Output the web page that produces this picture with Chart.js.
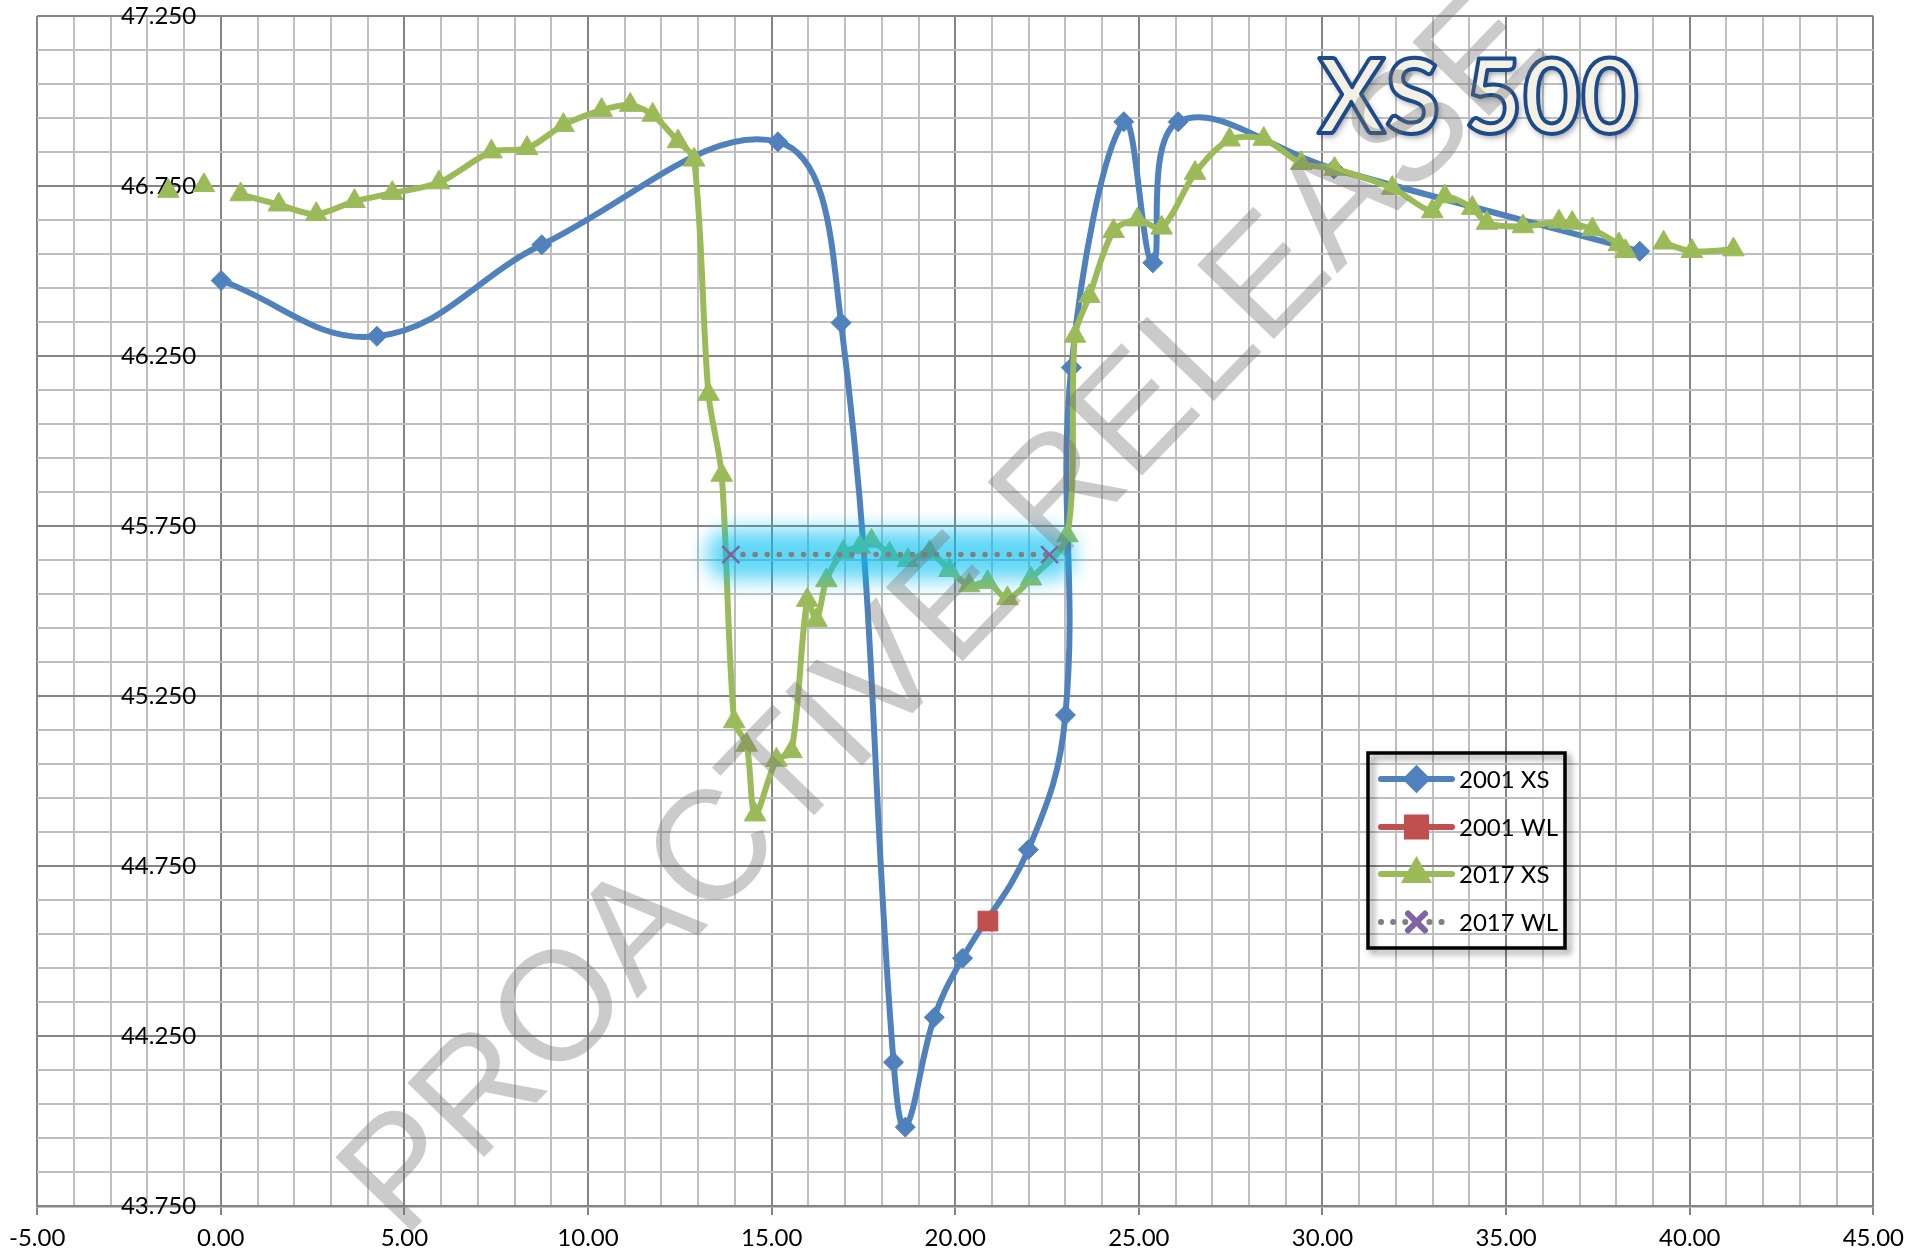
<!DOCTYPE html>
<html>
<head>
<meta charset="utf-8">
<script src="https://cdn.jsdelivr.net/npm/chart.js@4.4.1/dist/chart.umd.min.js"></script>
<style>
html,body{margin:0;padding:0;background:#ffffff;}
#wrap{width:1913px;height:1252px;position:relative;}
</style>
</head>
<body>
<div id="wrap"><canvas id="c" width="1913" height="1252"></canvas></div>
<script>
// ---------------- DATA ----------------
const seriesNames = ['2001 XS', '2001 WL', '2017 XS', '2017 WL'];

const xs2001X = [0.01, 4.25, 8.74, 15.17, 16.89, 18.32, 18.64, 19.43, 20.20, 21.99, 23.00, 23.16, 24.59, 25.38, 26.07, 30.31, 38.64];
const xs2001Y = [46.472, 46.308, 46.577, 46.880, 46.348, 44.173, 43.982, 44.305, 44.479, 44.798, 45.194, 46.216, 46.939, 46.524, 46.939, 46.800, 46.558];

const wl2001X = [20.89];
const wl2001Y = [44.588];

const xs2017X = [-1.43, -0.95, -0.46, 0.04, 0.54, 1.58, 2.60, 3.64, 4.67, 5.94, 7.37, 8.34, 9.33, 10.37, 11.15, 11.76, 12.45, 12.89,
                 13.28, 13.64, 13.98, 14.32, 14.55, 15.13, 15.54, 15.97, 16.22, 16.49, 16.95, 17.40, 17.72, 18.21, 18.71, 19.30,
                 19.84, 20.38, 20.88, 21.42, 22.06, 23.05, 23.26, 23.65, 24.31, 24.96, 25.62, 26.53, 27.47, 28.40, 29.42, 30.33,
                 31.90, 32.99, 33.33, 34.08, 34.48, 35.46, 36.44, 36.80, 37.35, 38.07, 38.25, 38.77, 39.29, 40.06, 41.19];
const xs2017Y = [46.735, null, 46.752, null, 46.725, 46.695, 46.667, 46.705, 46.729, 46.760, 46.851, 46.861, 46.929, 46.973, 46.988, 46.959, 46.881, 46.827,
                 46.138, 45.900, 45.175, 45.106, 44.901, 45.062, 45.087, 45.532, 45.473, 45.590, 45.673, 45.688, 45.706, 45.668, 45.649, 45.673,
                 45.620, 45.575, 45.585, 45.537, 45.595, 45.722, 46.309, 46.426, 46.617, 46.651, 46.627, 46.788, 46.886, 46.888, 46.817, 46.800,
                 46.744, 46.675, 46.719, 46.685, 46.641, 46.631, 46.645, 46.641, 46.622, 46.578, 46.558, null, 46.583, 46.558, 46.563];

const wl2017X = [13.89, 22.57];
const wl2017Y = [45.666, 45.666];

const xAxisMin = -5, xAxisMax = 45, xMinorStep = 1, xMajorStep = 5;
const yAxisMin = 43.75, yAxisMax = 47.25, yMinorStep = 0.1, yMajorStep = 0.5;
const yLabelCrossX = -0.67;
const chartTitle = 'XS 500';
const watermarkText = 'PROACTIVE RELEASE';

// ---------------- HELPERS ----------------
function pts(xa, ya) { return xa.map((x, i) => ({x: x, y: ya[i]})); }
function isMajor(v, base, step) {
  const r = (v - base) / step;
  return Math.abs(r - Math.round(r)) < 1e-6;
}
const MAJOR_GRID = '#858585';
const MINOR_GRID = '#bfbfbf';

const COL_BLUE = '#4F81BD', COL_RED = '#C0504D', COL_GREEN = '#9BBB59', COL_PURPLE = '#8064A2', COL_GREY = '#808080';

// ---------------- PLUGINS ----------------
const glowPlugin = {
  id: 'glow',
  beforeDatasetDraw(chart, args) {
    const ds = chart.data.datasets[args.index];
    if (!ds.glow) return;
    const p = args.meta.data;
    if (p.length < 2) return;
    const ctx = chart.ctx;
    ctx.save();
    ctx.filter = 'blur(10px)';
    ctx.strokeStyle = 'rgba(0,190,240,0.62)';
    ctx.lineWidth = 50;
    ctx.lineCap = 'round';
    ctx.beginPath();
    ctx.moveTo(p[0].x, p[0].y);
    for (let i = 1; i < p.length; i++) ctx.lineTo(p[i].x, p[i].y);
    ctx.stroke();
    ctx.restore();
  }
};

const decorPlugin = {
  id: 'decor',
  afterDraw(chart) {
    const ctx = chart.ctx;
    const H = Chart.helpers;
    // ---- legend ----
    ctx.save();
    ctx.shadowColor = 'rgba(0,0,0,0.45)';
    ctx.shadowBlur = 6;
    ctx.shadowOffsetX = 4;
    ctx.shadowOffsetY = 4;
    ctx.strokeStyle = '#000';
    ctx.lineWidth = 3.5;
    ctx.strokeRect(1368, 753, 197, 195);
    ctx.restore();

    const rows = [779, 827, 874, 922];
    const x0 = 1381, x1 = 1452, xm = 1416.5;
    chart.data.datasets.forEach((ds) => {
      const y = rows[ds.legendRow];
      ctx.save();
      ctx.strokeStyle = ds.legendLineColor;
      ctx.lineWidth = 6;
      ctx.lineCap = 'round';
      if (ds.legendDash) ctx.setLineDash(ds.legendDash);
      ctx.beginPath();
      ctx.moveTo(x0, y); ctx.lineTo(x1, y);
      ctx.stroke();
      ctx.setLineDash([]);
      ctx.fillStyle = ds.pointBackgroundColor;
      ctx.strokeStyle = ds.pointBorderColor;
      H.drawPoint(ctx, {pointStyle: ds.pointStyle, radius: ds.legendRadius, rotation: 0, borderWidth: ds.pointBorderWidth}, xm, y);
      ctx.restore();
      ctx.save();
      ctx.fillStyle = '#000';
      ctx.font = "24px Lato";
      ctx.textBaseline = 'middle';
      ctx.textAlign = 'left';
      ctx.fillText(ds.label, 1459, y + 1);
      ctx.restore();
    });

    // ---- title ----
    ctx.save();
    ctx.font = "bold 104px Lato";
    const w = ctx.measureText(chartTitle).width;
    const targetW = 321;
    ctx.translate(1318, 133);
    ctx.scale(targetW / w, 1);
    ctx.shadowColor = 'rgba(0,0,0,0.45)';
    ctx.shadowBlur = 7;
    ctx.shadowOffsetX = 2;
    ctx.shadowOffsetY = 3;
    ctx.textBaseline = 'alphabetic';
    ctx.fillStyle = '#F4F1E4';
    ctx.fillText(chartTitle, 0, 0);
    ctx.shadowColor = 'rgba(0,0,0,0)';
    ctx.lineJoin = 'round';
    ctx.strokeStyle = '#1D4A8A';
    ctx.lineWidth = 4;
    ctx.strokeText(chartTitle, 0, 0);
    ctx.restore();

    // ---- watermark ----
    ctx.save();
    ctx.translate(947, 616);
    ctx.rotate(-46 * Math.PI / 180);
    ctx.font = "155px 'Liberation Sans'";
    ctx.textAlign = 'center';
    ctx.textBaseline = 'middle';
    ctx.fillStyle = 'rgba(110,110,110,0.36)';
    ctx.fillText(watermarkText, 0, 0);
    ctx.restore();
  }
};

// ---------------- CHART ----------------
Chart.defaults.font.family = 'Lato';
Chart.defaults.color = '#000';

const chart = new Chart(document.getElementById('c'), {
  type: 'scatter',
  data: {
    datasets: [
      {
        label: seriesNames[0],
        data: pts(xs2001X, xs2001Y),
        showLine: true,
        borderColor: COL_BLUE,
        borderWidth: 6,
        tension: 0.4,
        pointStyle: 'rectRot',
        pointRadius: 10,
        pointBackgroundColor: COL_BLUE,
        pointBorderColor: COL_BLUE,
        pointBorderWidth: 1,
        order: 4,
        legendRow: 0, legendLineColor: COL_BLUE, legendRadius: 10
      },
      {
        label: seriesNames[1],
        data: pts(wl2001X, wl2001Y),
        showLine: false,
        borderColor: COL_RED,
        pointStyle: 'rect',
        pointRadius: 14,
        pointBackgroundColor: COL_RED,
        pointBorderColor: COL_RED,
        pointBorderWidth: 1,
        order: 3,
        legendRow: 1, legendLineColor: COL_RED, legendRadius: 13.5
      },
      {
        label: seriesNames[2],
        data: pts(xs2017X, xs2017Y),
        showLine: true,
        spanGaps: false,
        borderColor: COL_GREEN,
        borderWidth: 6,
        tension: 0.3,
        pointStyle: 'triangle',
        pointRadius: 12.5,
        pointBackgroundColor: COL_GREEN,
        pointBorderColor: COL_GREEN,
        pointBorderWidth: 1,
        order: 2,
        legendRow: 2, legendLineColor: COL_GREEN, legendRadius: 12
      },
      {
        label: seriesNames[3],
        data: pts(wl2017X, wl2017Y),
        showLine: true,
        glow: true,
        borderColor: COL_GREY,
        borderWidth: 5.5,
        borderDash: [0.1, 12],
        borderCapStyle: 'round',
        tension: 0,
        pointStyle: 'crossRot',
        pointRadius: 12,
        pointBackgroundColor: COL_PURPLE,
        pointBorderColor: COL_PURPLE,
        pointBorderWidth: 2.5,
        order: 1,
        legendRow: 3, legendLineColor: COL_GREY, legendRadius: 12, legendDash: [0.1, 12]
      }
    ]
  },
  options: {
    responsive: false,
    animation: false,
    devicePixelRatio: 1,
    layout: {padding: {left: 37, right: 34, top: 16, bottom: 0}},
    plugins: {
      legend: {display: false},
      tooltip: {enabled: false},
      title: {display: false}
    },
    scales: {
      x: {
        type: 'linear',
        position: 'bottom',
        min: xAxisMin, max: xAxisMax,
        afterFit(scale) { scale.height = 46; },
        ticks: {
          stepSize: xMinorStep,
          autoSkip: false,
          maxRotation: 0,
          padding: 9,
          font: {size: 24, family: 'Lato'},
          color: '#000',
          callback: (v) => isMajor(v, xAxisMin, xMajorStep) ? Number(v).toFixed(2) : ''
        },
        grid: {
          color: (c) => (c.tick && isMajor(c.tick.value, xAxisMin, xMajorStep)) ? MAJOR_GRID : MINOR_GRID,
          tickColor: (c) => (c.tick && isMajor(c.tick.value, xAxisMin, xMajorStep)) ? MAJOR_GRID : 'rgba(0,0,0,0)',
          lineWidth: 2,
          tickWidth: 2,
          tickLength: 9,
          drawTicks: true
        },
        border: {display: true, color: MAJOR_GRID, width: 2.5}
      },
      y: {
        type: 'linear',
        position: {x: yLabelCrossX},
        min: yAxisMin, max: yAxisMax,
        ticks: {
          stepSize: yMinorStep,
          autoSkip: false,
          padding: 0,
          font: {size: 24, family: 'Lato'},
          color: '#000',
          callback: (v) => isMajor(v, yAxisMin, yMajorStep) ? Number(v).toFixed(3) : ''
        },
        grid: {
          color: (c) => (c.tick && isMajor(c.tick.value, yAxisMin, yMajorStep)) ? MAJOR_GRID : MINOR_GRID,
          lineWidth: 2,
          drawTicks: false
        },
        border: {display: false}
      }
    }
  },
  plugins: [glowPlugin, decorPlugin]
});
</script>
</body>
</html>
